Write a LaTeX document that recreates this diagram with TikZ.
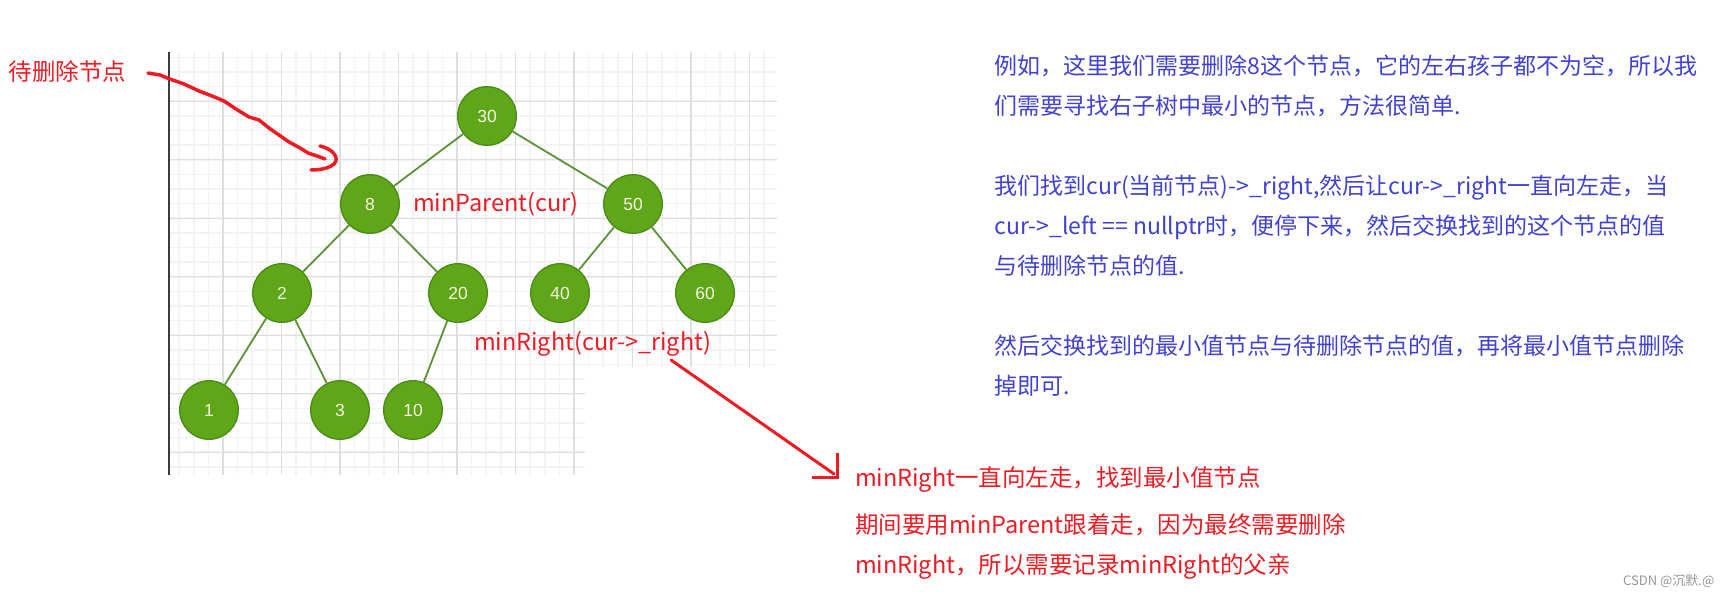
\documentclass[tikz,border=0pt]{standalone}
\usepackage{fontspec}
\setmainfont{Noto Sans CJK SC}
\newfontfamily\nodefont{Liberation Sans}
\definecolor{nodegreen}{RGB}{95,167,25}
\definecolor{nodeborder}{RGB}{75,138,22}
\definecolor{edgegreen}{RGB}{92,145,58}
\definecolor{nodetext}{RGB}{245,245,225}
\definecolor{annred}{RGB}{237,28,36}
\definecolor{bluetext}{RGB}{66,66,210}
\definecolor{gridminor}{RGB}{243,243,243}
\definecolor{gridmajor}{RGB}{222,222,222}
\definecolor{axisdark}{RGB}{60,60,60}
\definecolor{wmgrey}{RGB}{150,150,150}
\tikzset{
  tn/.style={circle, minimum size=58.6pt, inner sep=0pt, fill=nodegreen, draw=nodeborder, line width=1.3pt, text=nodetext, font=\nodefont\fontsize{17.5pt}{20pt}\selectfont},
  edge/.style={draw=edgegreen, line width=1.8pt},
  redtxt/.style={anchor=base west, inner sep=0pt, outer sep=0pt, text=annred, font=\fontsize{23.5pt}{28pt}\selectfont},
  bluetxt/.style={anchor=base west, inner sep=0pt, outer sep=0pt, text=bluetext, font=\fontsize{23pt}{28pt}\selectfont},
  redline/.style={draw=annred, line width=3.3pt, line join=round, line cap=round}
}
\begin{document}
\begin{tikzpicture}[x=1pt,y=-1pt]
\useasboundingbox (0,0) rectangle (1732,596);
\fill[white] (0,0) rectangle (1732,596);
% grid
\begin{scope}
\clip (169,52) -- (777,52) -- (777,367) -- (585,367) -- (585,475) -- (169,475) -- cycle;
\foreach \i in {0,...,42} {
  \draw[gridminor, line width=1.6pt] ({164.5+14.625*\i},52) -- ({164.5+14.625*\i},475);
}
\foreach \i in {0,...,29} {
  \draw[gridminor, line width=1.6pt] (169,{57.4+14.625*\i}) -- (777,{57.4+14.625*\i});
}
\foreach \i in {1,...,11} {
  \draw[gridmajor, line width=1.2pt] ({164.5+58.5*\i},52) -- ({164.5+58.5*\i},475);
}
\foreach \i in {0,...,6} {
  \draw[gridmajor, line width=1.2pt] (169,{101.3+58.5*\i}) -- (777,{101.3+58.5*\i});
}
\end{scope}
\draw[axisdark, line width=2pt] (169,52) -- (169,475);
% tree nodes
\node[tn] (n30) at (487,116) {30};
\node[tn] (n8) at (370,204) {8};
\node[tn] (n50) at (633,204) {50};
\node[tn] (n2) at (282,293) {2};
\node[tn] (n20) at (458,293) {20};
\node[tn] (n40) at (560,293) {40};
\node[tn] (n60) at (705,293) {60};
\node[tn] (n1) at (209,410) {1};
\node[tn] (n3) at (340,410) {3};
\node[tn] (n10) at (413,410) {10};
\draw[edge] (n30) -- (n8);
\draw[edge] (n30) -- (n50);
\draw[edge] (n8) -- (n2);
\draw[edge] (n8) -- (n20);
\draw[edge] (n50) -- (n40);
\draw[edge] (n50) -- (n60);
\draw[edge] (n2) -- (n1);
\draw[edge] (n2) -- (n3);
\draw[edge] (n20) -- (n10);
% red annotations
\node[redtxt] (del) at (9,80.7) {待删除节点};
\node[redtxt] (mp) at (413,212) {minParent(cur)};
\node[redtxt] (mr) at (474,350) {minRight(cur->\_right)};
\node[redtxt] (b1) at (855,486.7) {minRight一直向左走，找到最小值节点};
\node[redtxt] (b2) at (855,533.7) {期间要用minParent跟着走，因为最终需要删除};
\node[redtxt] (b3) at (855,573.7) {minRight，所以需要记录minRight的父亲};
% hand-drawn arrow
\draw[redline, line width=3.5pt] (148,73) -- (160,75) -- (169,78.7) -- (184,84) -- (199,91) -- (212,96) -- (224,101) -- (236,109) -- (249,117) -- (259,120) -- (269,128) -- (279,135) -- (289,142) -- (300,148) -- (308,153) -- (317,156) -- (325,159);
\draw[redline, line width=3.5pt] (320,146) .. controls (333,149) and (340,158) .. (334,164) .. controls (328,169) and (318,170) .. (311,170);
% straight arrow with corner head
\coordinate (as) at (671,360);
\coordinate (ae) at (834,474);
\draw[redline, line width=3pt] (as) -- (ae);
\draw[redline, line width=3pt, line cap=butt, line join=miter] (837,453) -- (837,477) -- (812,477);
% blue text
\node[bluetxt] (t1) at (994.5,74.7) {例如，这里我们需要删除8这个节点，它的左右孩子都不为空，所以我};
\node[bluetxt] (t2) at (994.5,114.7) {们需要寻找右子树中最小的节点，方法很简单.};
\node[bluetxt] (t3) at (994.5,194.7) {我们找到cur(当前节点)->\_right,然后让cur->\_right一直向左走，当};
\node[bluetxt] (t4) at (994.5,234.7) {cur->\_left == nullptr时，便停下来，然后交换找到的这个节点的值};
\node[bluetxt] (t5) at (994.5,274.7) {与待删除节点的值.};
\node[bluetxt] (t6) at (994.5,354.7) {然后交换找到的最小值节点与待删除节点的值，再将最小值节点删除};
\node[bluetxt] (t7) at (994.5,394.7) {掉即可.};
% watermark
\node[anchor=base west, inner sep=0pt, text=wmgrey, font=\fontsize{13pt}{15pt}\selectfont] (wm) at (1623,585) {CSDN @沉默.@};
\end{tikzpicture}
\end{document}
